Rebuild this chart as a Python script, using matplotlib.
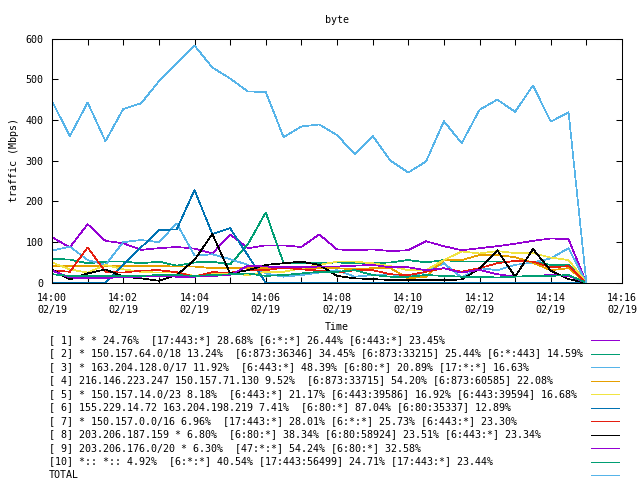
import pandas as pd
import matplotlib.pyplot as plt
import matplotlib.dates as mdates
from matplotlib.lines import Line2D

# one sample every 30 s, 14:00 -> 14:15
times = pd.date_range("2015-02-19 14:00:00", periods=31, freq="30s")

s1 = [112, 87, 144, 103, 97, 81, 85, 88, 84, 72, 119, 85, 92, 92, 88, 119,
      82, 80, 82, 78, 80, 102, 90, 80, 85, 90, 96, 103, 109, 107, 0]
s2 = [59, 57, 48, 52, 52, 48, 52, 42, 50, 52, 45, 95, 173, 48, 48, 48,
      50, 48, 48, 50, 56, 50, 56, 52, 52, 52, 52, 52, 44, 44, 0]
s3 = [79, 89, 56, 44, 100, 105, 100, 146, 67, 70, 58, 44, 23, 15, 19, 25,
      31, 15, 19, 21, 15, 27, 48, 13, 36, 31, 44, 50, 60, 85, 0]
s4 = [41, 41, 41, 41, 41, 41, 41, 40, 40, 36, 36, 37, 36, 36, 36, 36,
      36, 33, 36, 36, 11, 15, 56, 56, 68, 68, 63, 49, 31, 36, 0]
s5 = [50, 33, 25, 44, 33, 27, 25, 25, 17, 23, 23, 19, 27, 27, 36, 44,
      52, 52, 48, 41, 31, 31, 56, 77, 72, 78, 73, 73, 62, 56, 0]
s6 = [0, 0, 0, 0, 44, 87, 130, 131, 228, 120, 134, 67, 0, 0, 0, 0,
      0, 0, 0, 0, 0, 0, 0, 0, 0, 0, 0, 0, 0, 0, 0]
s7 = [31, 27, 87, 27, 25, 30, 31, 26, 15, 26, 25, 31, 31, 37, 33, 30,
      25, 31, 31, 21, 19, 27, 36, 27, 36, 48, 54, 52, 38, 41, 0]
s8 = [33, 8, 23, 33, 15, 11, 5, 19, 56, 120, 23, 31, 44, 48, 52, 44,
      17, 11, 9, 7, 7, 7, 7, 8, 35, 80, 15, 83, 30, 9, 0]
s9 = [30, 13, 11, 11, 15, 15, 17, 15, 15, 17, 19, 42, 40, 38, 38, 40,
      40, 42, 44, 38, 38, 31, 36, 25, 32, 21, 15, 17, 19, 17, 0]
s10 = [21, 17, 17, 17, 17, 17, 19, 19, 17, 19, 21, 23, 17, 19, 23, 27,
       27, 31, 19, 15, 15, 19, 17, 15, 15, 13, 15, 17, 17, 19, 0]
total = [447, 360, 443, 348, 427, 441, 495, 539, 583, 529, 502, 470, 469, 358, 384, 389,
         363, 316, 361, 300, 271, 298, 397, 343, 425, 450, 420, 485, 396, 419, 0]

labels = [
    "[ 1] * * 24.76%  [17:443:*] 28.68% [6:*:*] 26.44% [6:443:*] 23.45%",
    "[ 2] * 150.157.64.0/18 13.24%  [6:873:36346] 34.45% [6:873:33215] 25.44% [6:*:443] 14.59%",
    "[ 3] * 163.204.128.0/17 11.92%  [6:443:*] 48.39% [6:80:*] 20.89% [17:*:*] 16.63%",
    "[ 4] 216.146.223.247 150.157.71.130 9.52%  [6:873:33715] 54.20% [6:873:60585] 22.08%",
    "[ 5] * 150.157.14.0/23 8.18%  [6:443:*] 21.17% [6:443:39586] 16.92% [6:443:39594] 16.68%",
    "[ 6] 155.229.14.72 163.204.198.219 7.41%  [6:80:*] 87.04% [6:80:35337] 12.89%",
    "[ 7] * 150.157.0.0/16 6.96%  [17:443:*] 28.01% [6:*:*] 25.73% [6:443:*] 23.30%",
    "[ 8] 203.206.187.159 * 6.80%  [6:80:*] 38.34% [6:80:58924] 23.51% [6:443:*] 23.34%",
    "[ 9] 203.206.176.0/20 * 6.30%  [47:*:*] 54.24% [6:80:*] 32.58%",
    "[10] *:: *:: 4.92%  [6:*:*] 40.54% [17:443:56499] 24.71% [17:443:*] 23.44%",
    "TOTAL",
]
colors = ["#9400d3", "#009e73", "#56b4e9", "#e69f00", "#f0e442", "#0072b2",
          "#e51e10", "#000000", "#9400d3", "#009e73", "#56b4e9"]

plt.rcParams["font.family"] = "DejaVu Sans Mono"
plt.rcParams["font.size"] = 7.2

W, H = 640, 480
LW = 0.5
fig = plt.figure(figsize=(6.4, 4.8), dpi=100)
ax = fig.add_axes([52 / W, 1 - 282.8 / H, 570 / W, 244.2 / H])

series = [s1, s2, s3, s4, s5, s6, s7, s8, s9, s10, total]
for vals, c in zip(series, colors):
    ax.plot(times, vals, color=c, linewidth=LW, antialiased=False)

ax.set_xlim(pd.Timestamp("2015-02-19 14:00"), pd.Timestamp("2015-02-19 14:16"))
ax.set_ylim(0, 600)
ax.set_yticks(range(0, 601, 100))
ax.xaxis.set_major_locator(mdates.MinuteLocator(interval=2))
ax.xaxis.set_minor_locator(mdates.MinuteLocator(interval=1))
ax.xaxis.set_major_formatter(mdates.DateFormatter("%H:%M\n%m/%d"))
ax.tick_params(which="both", direction="in", length=4, width=0.75,
               top=True, right=True, labelsize=7.2)
ax.tick_params(axis="x", pad=7)
ax.tick_params(axis="y", pad=6)
for lab in ax.get_xticklabels():
    lab.set_linespacing(1.3)
for sp in ax.spines.values():
    sp.set_linewidth(0.75)

fig.text(337 / W, 1 - 20 / H, "byte", ha="center", va="center")
fig.text(337 / W, 1 - 327 / H, "Time", ha="center", va="center")
fig.text(14 / W, 1 - 160 / H, "traffic (Mbps)", ha="center", va="center",
         rotation=90)

# key below the plot: text left, sample line right
for i, (lab, c) in enumerate(zip(labels, colors)):
    y = 1 - (340 + 13.5 * i) / H
    fig.text(49 / W, y, lab, ha="left", va="center")
    fig.add_artist(Line2D([591 / W, 619 / W], [y, y], color=c,
                          linewidth=LW, antialiased=False))

fig.savefig("out.png", dpi=100)
